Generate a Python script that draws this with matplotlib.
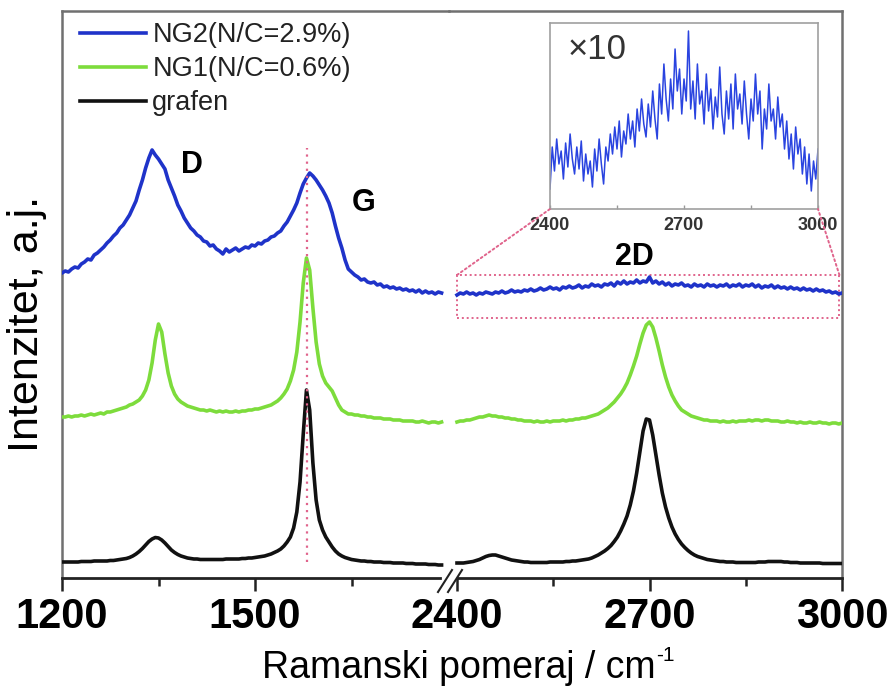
import numpy as np
import matplotlib
matplotlib.use('Agg')
import matplotlib.pyplot as plt
from matplotlib.lines import Line2D
from matplotlib.patches import Rectangle, ConnectionPatch

plt.rcParams['font.family'] = ['Liberation Sans', 'DejaVu Sans']

# ---------------- data ----------------
x_left = np.arange(1200, 1795, 5)    # Raman shift, cm-1 (left segment)
x_right = np.arange(2400, 3005, 5)   # Raman shift, cm-1 (right segment)

grafen_left = [
    16, 16, 16, 16, 16, 16, 16.5, 16.5, 16.5, 16.5,
    17, 17, 17, 17, 17, 17.5, 17.5, 18, 18.5, 19,
    19.5, 20.5, 22, 24, 26.5, 29.5, 33, 36.5, 39, 40.5,
    40, 38, 35, 31.5, 28, 25.5, 23.5, 22, 21, 20,
    19.5, 19, 19, 18.5, 18.5, 18.5, 18.5, 18.5, 18.5, 18.5,
    18.5, 19, 19, 19, 19, 19, 19.5, 19.5, 20, 20,
    20.5, 21, 21.5, 22, 23, 24, 25.5, 27, 29, 32,
    36, 41, 50, 66, 96, 144, 188, 168, 115, 78,
    58, 48, 41, 36, 31, 27, 24, 22, 20.5, 19.5,
    18.5, 18, 17.5, 17, 17, 16.5, 16.5, 16, 16, 16,
    15.5, 15.5, 15.5, 15, 15, 15, 15, 14.5, 14.5, 14.5,
    14, 14, 14, 14, 13.5, 13.5, 13.5, 13, 13]

ng1_left = [
    161, 161, 162, 161, 162, 162, 163, 162, 163, 164,
    163, 164, 165, 164, 166, 166, 167, 168, 169, 170,
    171, 173, 174, 176, 178, 182, 188, 198, 215, 238,
    254, 246, 224, 205, 192, 184, 179, 176, 174, 172,
    171, 170, 169, 168, 168, 167, 168, 167, 166, 167,
    166, 167, 166, 166, 167, 166, 167, 167, 168, 168,
    169, 169, 170, 171, 172, 173, 175, 177, 180, 184,
    189, 197, 208, 226, 256, 295, 320, 308, 270, 236,
    214, 202, 195, 191, 187, 180, 173, 168, 166, 164,
    164, 163, 163, 162, 162, 161, 161, 160, 160, 160,
    159, 159, 159, 158, 158, 158, 157, 157, 157, 157,
    156, 156, 157, 156, 155, 156, 156, 155, 156]

ng2_left = [
    305, 307, 306, 309, 311, 310, 314, 316, 319, 318,
    323, 325, 328, 331, 335, 338, 342, 345, 350, 353,
    358, 363, 370, 377, 388, 398, 410, 420, 428, 423,
    419, 414, 409, 398, 390, 382, 373, 367, 360, 355,
    350, 347, 343, 341, 337, 336, 332, 333, 329, 327,
    324, 329, 326, 328, 330, 327, 329, 331, 330, 333,
    332, 335, 334, 337, 338, 341, 342, 345, 347, 352,
    356, 362, 368, 375, 385, 394, 400, 405, 402, 398,
    393, 388, 382, 375, 365, 352, 340, 330, 318, 309,
    306, 303, 301, 298, 299, 296, 295, 296, 293, 294,
    291, 292, 290, 291, 289, 290, 288, 289, 287, 288,
    286, 288, 285, 287, 285, 286, 284, 286, 285]

grafen_right = [
    15, 15, 15, 15.5, 16, 16.5, 17.5, 18.5, 20, 21.5,
    22.5, 23, 23, 22, 21, 20, 19, 18, 17.5, 17,
    16.5, 16, 16, 15.5, 15.5, 15.5, 15.5, 15.5, 15.5, 16,
    16, 16, 16, 16, 16.5, 16.5, 17, 17, 17.5, 18,
    18.5, 19, 20, 21.5, 23, 25, 27, 29.5, 32.5, 36.5,
    41, 47, 54, 62, 73, 87, 105, 126, 147, 159,
    158, 143, 123, 103, 85, 71, 60, 51, 44, 38.5,
    34, 30.5, 27.5, 25, 23, 21.5, 20.5, 19.5, 18.5, 18,
    17.5, 17, 16.5, 16.5, 16, 16, 16, 15.5, 15.5, 15.5,
    15.5, 15.5, 15.5, 15.5, 16, 16, 16, 16.5, 16.5, 16.5,
    16.5, 16.5, 16, 16, 15.5, 15.5, 15.5, 15, 15, 15,
    15, 15, 15, 15, 14.5, 14.5, 14.5, 14.5, 14.5, 14.5,
    14.5]

ng1_right = [
    156, 157, 157, 158, 158, 159, 160, 161, 161, 162,
    163, 162, 162, 161, 161, 160, 160, 159, 159, 158,
    158, 157, 157, 157, 156, 157, 156, 156, 157, 156,
    157, 157, 157, 158, 157, 158, 158, 159, 159, 160,
    160, 161, 162, 163, 164, 166, 168, 170, 173, 176,
    180, 184, 189, 195, 203, 212, 222, 234, 245, 253,
    256, 251, 240, 227, 213, 201, 191, 183, 177, 172,
    168, 166, 164, 162, 161, 160, 159, 158, 158, 157,
    157, 157, 156, 157, 156, 156, 157, 156, 157, 157,
    157, 158, 157, 158, 158, 157, 158, 158, 157, 157,
    157, 156, 156, 157, 156, 156, 155, 156, 155, 155,
    156, 155, 155, 156, 155, 155, 154, 155, 155, 154,
    155]

ng2_right = [
    283, 285, 284, 286, 284, 285, 283, 285, 284, 286,
    285, 284, 286, 285, 287, 285, 286, 288, 286, 287,
    286, 288, 287, 289, 287, 288, 290, 288, 289, 291,
    289, 290, 288, 291, 290, 292, 290, 291, 293, 290,
    292, 291, 294, 292, 293, 291, 294, 293, 295, 292,
    296, 294, 297, 294, 296, 295, 298, 295, 297, 296,
    301, 295, 297, 294, 296, 293, 295, 292, 294, 293,
    295, 292, 293, 291, 294, 292, 293, 291, 294, 292,
    293, 291, 293, 292, 294, 291, 293, 292, 294, 291,
    293, 292, 294, 291, 293, 290, 292, 291, 293, 290,
    292, 290, 291, 289, 291, 289, 290, 288, 290, 288,
    289, 287, 289, 287, 288, 286, 287, 285, 286, 284,
    285]

# inset: NG2 2D region magnified x10
ng2_inset = [
    20, 62, 38, 70, 45, 58, 30, 66, 42, 75,
    50, 35, 62, 40, 68, 28, 55, 35, 48, 22,
    60, 38, 70, 45, 25, 62, 48, 75, 55, 82,
    60, 88, 52, 78, 65, 95, 70, 88, 62, 100,
    78, 110, 85, 72, 105, 82, 118, 90, 70, 125,
    95, 145, 110, 88, 130, 100, 160, 118, 140, 95,
    130, 108, 178, 100, 128, 90, 145, 105, 118, 85,
    135, 98, 120, 80, 112, 92, 142, 95, 75, 118,
    90, 125, 80, 135, 100, 115, 85, 128, 95, 70,
    110, 88, 135, 95, 118, 60, 100, 80, 125, 88,
    100, 70, 112, 82, 95, 60, 88, 50, 75, 40,
    82, 55, 70, 35, 62, 25, 55, 18, 48, 30,
    60]

series_labels = ['NG2(N/C=2.9%)', 'NG1(N/C=0.6%)', 'grafen']
g_band_pos = 1581
left_major = [1200, 1500]
left_minor = [1350, 1650]
right_major = [2400, 2700, 3000]
right_minor = [2550, 2850]
inset_major = [2400, 2700, 3000]
inset_minor = [2550, 2850]
zoom_region = (2400, 2996, 260, 303)   # x0, x1, y0, y1 of magnified region

# ---------------- styling ----------------
C_BLUE = '#1f33c9'
C_GREEN = '#7ddc3c'
C_BLACK = '#111111'
C_PINK = '#e0648c'
W, H = 895, 691

fig = plt.figure(figsize=(W / 100, H / 100), dpi=100)
fig.patch.set_facecolor('white')


def fr(x0, y0, x1, y1):
    return [x0 / W, 1 - y1 / H, (x1 - x0) / W, (y1 - y0) / H]


ax1 = fig.add_axes(fr(62, 11, 449, 578))
ax2 = fig.add_axes(fr(449, 11, 842, 578))

lw = 2.6
h_ng2, = ax1.plot(x_left, ng2_left, color=C_BLUE, lw=lw, zorder=3)
h_ng1, = ax1.plot(x_left, ng1_left, color=C_GREEN, lw=lw, zorder=3)
h_gr, = ax1.plot(x_left, grafen_left, color=C_BLACK, lw=lw, zorder=3)
ax2.plot(x_right, ng2_right, color=C_BLUE, lw=lw, zorder=3)
ax2.plot(x_right, ng1_right, color=C_GREEN, lw=lw, zorder=3)
ax2.plot(x_right, grafen_right, color=C_BLACK, lw=lw, zorder=3)

# dotted G-band marker
ax1.plot([g_band_pos, g_band_pos], [16, 430], ls=(0, (1, 2.2)), color=C_PINK,
         lw=1.6, zorder=4)

for ax in (ax1, ax2):
    ax.set_ylim(0, 567)
    ax.set_yticks([])
    ax.set_facecolor('none')
    for s in ('top', 'left', 'right'):
        ax.spines[s].set_color('#707070')
        ax.spines[s].set_linewidth(1.8)
    ax.spines['bottom'].set_color('#222222')
    ax.spines['bottom'].set_linewidth(2.0)
    ax.tick_params(axis='x', which='major', direction='out', length=9.5,
                   width=1.8, pad=4, labelsize=30, color='#222222')
    ax.tick_params(axis='x', which='minor', direction='out', length=5.5,
                   width=1.8, color='#222222')

ax1.set_xlim(1200, 1200 + 387 / (193 / 300))
ax2.set_xlim(2400 - 8 / (385 / 600), 3000)
ax1.spines['right'].set_visible(False)
ax2.spines['left'].set_visible(False)
ax1.spines['bottom'].set_bounds(1200, 1788)
ax2.spines['bottom'].set_bounds(2402, 3000)

ax1.set_xticks(left_major)
ax1.set_xticklabels([str(v) for v in left_major], fontweight='bold')
ax1.set_xticks(left_minor, minor=True)
ax2.set_xticks(right_major)
ax2.set_xticklabels([str(v) for v in right_major], fontweight='bold')
ax2.set_xticks(right_minor, minor=True)

# axis break marks
for dx in (0, 10):
    fig.add_artist(Line2D([(438 + dx) / W, (452 + dx) / W],
                          [1 - 592 / H, 1 - 570 / H],
                          transform=fig.transFigure, color='#222222', lw=1.5))

# peak labels
ax1.text(1402, 413, 'D', fontsize=22, fontweight='bold', ha='center', va='center')
ax1.text(1669, 375, 'G', fontsize=22, fontweight='bold', ha='center', va='center')
ax2.text(2677, 321, '2D', fontsize=22, fontweight='bold', ha='center', va='center')

# legend
fig.legend([h_ng2, h_ng1, h_gr], series_labels, loc='upper left',
           bbox_to_anchor=(80 / W, 1 - 22 / H), bbox_transform=fig.transFigure,
           frameon=False, fontsize=19.5, handlelength=2.45, handletextpad=0.22,
           borderpad=0, borderaxespad=0, labelspacing=0.30, labelcolor='#222222')

# axis labels
xl = fig.text(262 / W, 1 - 668 / H, 'Ramanski pomeraj / cm', fontsize=27,
              ha='left', va='center')
fig.canvas.draw()
bb = xl.get_window_extent()
fig.text((bb.x1 + 1) / W, (bb.y1 + 4) / H, '-1', fontsize=15,
         ha='left', va='top')
fig.text(27 / W, 1 - 324 / H, 'Intenzitet, a.j.', fontsize=31, rotation=90,
         ha='center', va='center')

# magnified region box
zx0, zx1, zy0, zy1 = zoom_region
ax2.add_patch(Rectangle((zx0, zy0), zx1 - zx0, zy1 - zy0, fill=False,
                        ls=(0, (1, 1.5)), ec=C_PINK, lw=1.4, zorder=2,
                        clip_on=False))

# inset
axins = fig.add_axes(fr(550, 23, 818, 209))
axins.plot(x_right, ng2_inset, color='#2a44e0', lw=1.1)
axins.set_xlim(2400, 3000)
axins.set_ylim(0, 186)
axins.set_yticks([])
axins.set_xticks(inset_major)
axins.set_xticklabels([str(v) for v in inset_major], fontweight='bold')
axins.set_xticks(inset_minor, minor=True)
axins.tick_params(axis='x', which='both', direction='in', length=3, width=1,
                  color='#999999', labelsize=13, labelcolor='#333333', pad=6)
for s in axins.spines.values():
    s.set_color('#a0a0a0')
    s.set_linewidth(1.2)
axins.text(0.175, 0.855, '×10', transform=axins.transAxes, fontsize=25,
           color='#333333', ha='center', va='center')

for xa, xb in ((zx0, 2400), (zx1, 3000)):
    cp = ConnectionPatch(xyA=(xa, zy1), coordsA=ax2.transData,
                         xyB=(xb, 0), coordsB=axins.transData,
                         ls=(0, (1, 1.5)), color=C_PINK, lw=1.4)
    fig.add_artist(cp)

fig.savefig('out.png', dpi=100)
